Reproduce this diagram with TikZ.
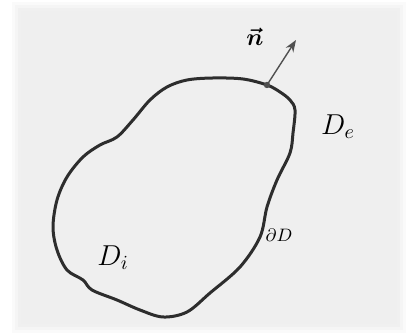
\documentclass[tikz,border=0pt]{standalone}
\usepackage{amssymb, amsmath}
\usepackage{tikz}
\usetikzlibrary{arrows.meta}
\definecolor{paper}{RGB}{239, 239, 239}
\definecolor{ink}{RGB}{45, 45, 45}
\definecolor{arrowgray}{RGB}{80, 80, 80}

\begin{document}
\begin{tikzpicture}[x=0.5pt, y=-0.5pt]
  \useasboundingbox (0, 0) rectangle (408, 335);
  \fill[white] (0, 0) rectangle (408, 335);
  % soft frame
  \foreach \d/\o in {0/0.25, 3/0.45, 6/0.7, 9/1} {
    \fill[paper, opacity=\o] (12+\d, 2+\d) rectangle (406-\d, 333-\d);
  }

  % boundary of the domain
  \draw[ink, line width=1.5pt, line join=round] plot[smooth cycle, tension=0.55] coordinates {
    (267, 85) (243, 79) (213, 78) (187, 80) (167, 87) (150, 100) (133, 120)
    (117, 137) (100, 145) (83, 157) (67, 177) (57, 200) (53, 227) (57, 250)
    (67, 270) (83, 280) (92, 290) (117, 300) (140, 310) (163, 317) (187, 312)
    (210, 293) (240, 267) (260, 237) (267, 207) (277, 180) (290, 153)
    (293, 133) (295, 110) (290, 100) (280, 92)
  };

  \coordinate (foot) at (267, 85);
  \coordinate (tip) at (296, 40);
  \draw[arrowgray, line width=0.7pt, -{Stealth[length=6pt, width=4.5pt]}] (foot) -- (tip);
  \fill[arrowgray] (foot) circle (3.2);

  \node (normal) at (255, 37) {\large $\boldsymbol{\vec{n}}$};
  \node (exterior) at (338, 127) {\Large $D_e$};
  \node (bdry) at (279, 235) {\small $\partial D$};
  \node (interior) at (113, 258) {\Large $D_i$};
\end{tikzpicture}
\end{document}
